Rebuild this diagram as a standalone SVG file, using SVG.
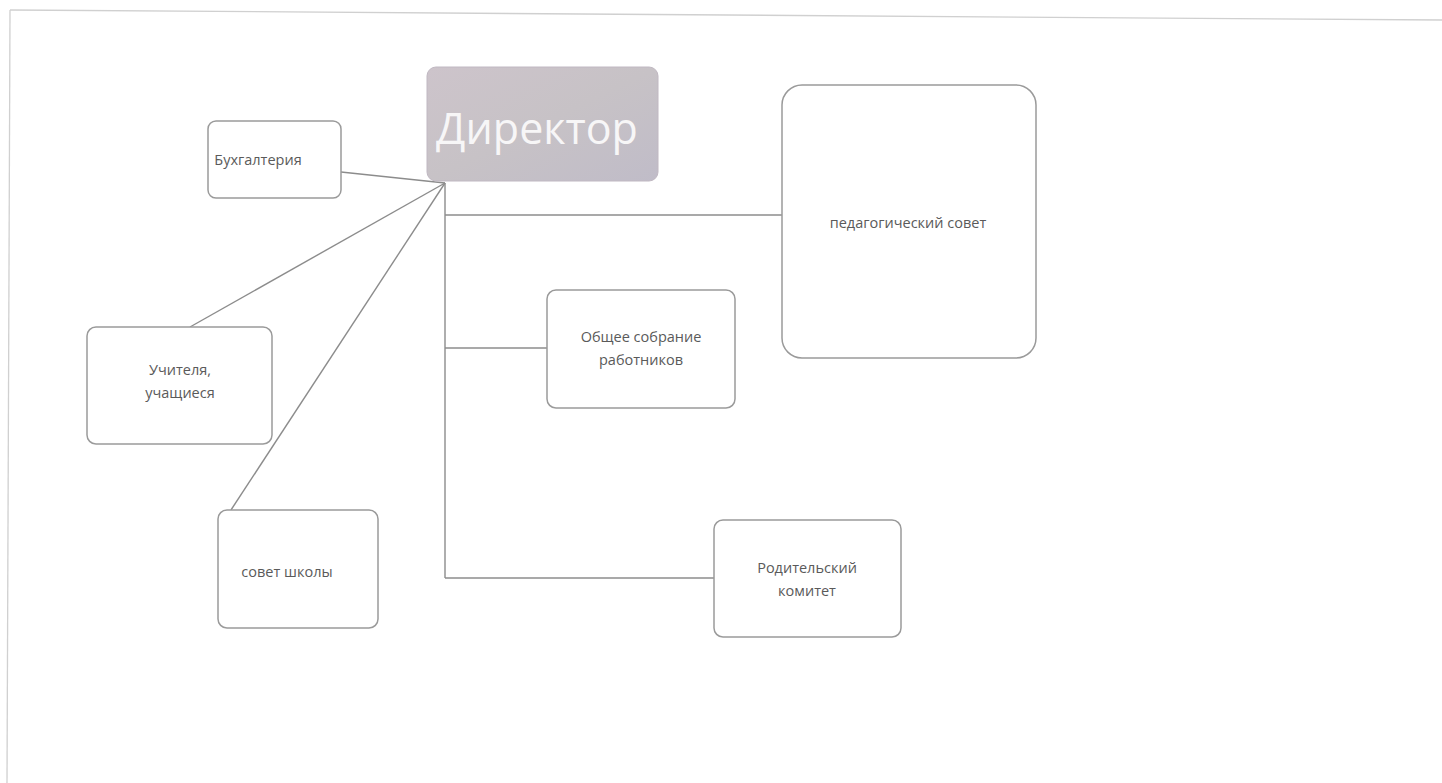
<svg xmlns="http://www.w3.org/2000/svg" width="1442" height="783" viewBox="0 0 1442 783">
  <defs>
    <linearGradient id="dirFill" x1="0" y1="0" x2="1" y2="1">
      <stop offset="0" stop-color="#cdc4cb"/>
      <stop offset="0.5" stop-color="#c7c2c6"/>
      <stop offset="1" stop-color="#c0bcc8"/>
    </linearGradient>
    <style>
      .box { fill: #ffffff; stroke: #9a9a9a; stroke-width: 1.5; }
      .lbl { font-family: "Open Sans", "Liberation Sans", sans-serif; font-size: 14.5px; fill: #5a5a5a; text-anchor: middle; }
      .conn { stroke: #8c8c8c; stroke-width: 1.4; fill: none; }
      .frame { stroke: #d0d0d0; stroke-width: 1.3; fill: none; }
    </style>
  </defs>
  <rect width="1442" height="783" fill="#ffffff"/>
  <g id="frame">
    <path class="frame" d="M10,10 L1442,20"/>
    <path class="frame" d="M10,10 L7,783"/>
  </g>
  <g id="connectors">
    <path class="conn" d="M445,183 L341,172"/>
    <path class="conn" d="M445,183 L190,327"/>
    <path class="conn" d="M445,183 L231,510"/>
    <path class="conn" d="M445,183 L445,578"/>
    <path class="conn" d="M445,215 L782,215"/>
    <path class="conn" d="M445,348 L547,348"/>
    <path class="conn" d="M445,578 L714,578"/>
  </g>
  <g id="director">
    <rect x="427" y="67" width="231" height="114" rx="9" fill="url(#dirFill)" stroke="#c0b8c2" stroke-width="1"/>
    <text x="537" y="144" font-family="Open Sans, Liberation Sans, sans-serif" font-size="43" fill="#f7f6f7" text-anchor="middle">Директор</text>
  </g>
  <g id="buhgalteriya">
    <rect class="box" x="208" y="121" width="133" height="77" rx="8"/>
    <text class="lbl" x="258" y="165">Бухгалтерия</text>
  </g>
  <g id="uchitelya">
    <rect class="box" x="87" y="327" width="185" height="117" rx="9"/>
    <text class="lbl" x="180" y="375">Учителя,</text>
    <text class="lbl" x="180" y="398">учащиеся</text>
  </g>
  <g id="sovet-shkoly">
    <rect class="box" x="218" y="510" width="160" height="118" rx="9"/>
    <text class="lbl" x="287" y="577">совет школы</text>
  </g>
  <g id="obshchee-sobranie">
    <rect class="box" x="547" y="290" width="188" height="118" rx="9"/>
    <text class="lbl" x="641" y="342">Общее собрание</text>
    <text class="lbl" x="641" y="365">работников</text>
  </g>
  <g id="roditelskiy">
    <rect class="box" x="714" y="520" width="187" height="117" rx="9"/>
    <text class="lbl" x="807" y="573">Родительский</text>
    <text class="lbl" x="807" y="596">комитет</text>
  </g>
  <g id="pedsovet">
    <rect class="box" x="782" y="85" width="254" height="273" rx="20"/>
    <text class="lbl" x="908" y="228">педагогический совет</text>
  </g>
</svg>
